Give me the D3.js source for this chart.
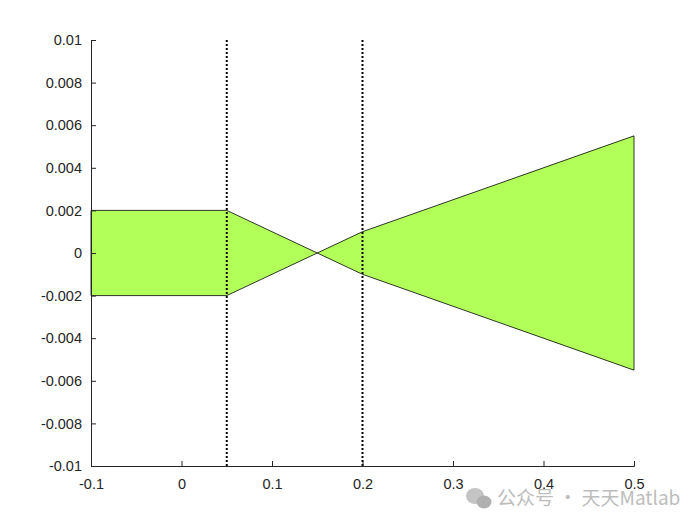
<!DOCTYPE html>
<html>
<head>
<meta charset="utf-8">
<script src="https://cdn.jsdelivr.net/npm/d3@7"></script>
<style>
  body { margin: 0; background: #fff; }
  svg text { font-family: "Liberation Sans", Arial, sans-serif; }
</style>
</head>
<body>
<div id="chart"></div>
<script>
// band outline: upper edge and lower edge (x, y)
var xs = [-0.1, 0.05, 0.15, 0.2, 0.5];
var upper = [0.002, 0.002, 0, 0.001, 0.0055];
var lower = [-0.002, -0.002, 0, -0.001, -0.0055];
var vlines = [0.05, 0.2];
var xTicks = [-0.1, 0, 0.1, 0.2, 0.3, 0.4, 0.5];
var yTicks = [-0.01, -0.008, -0.006, -0.004, -0.002, 0, 0.002, 0.004, 0.006, 0.008, 0.01];

var width = 700, height = 525;
var mLeft = 91, mRight = 634, mTop = 40, mBottom = 466;

var svg = d3.select("#chart").append("svg")
    .attr("width", width)
    .attr("height", height);

var x = d3.scaleLinear().domain([-0.1, 0.5]).range([mLeft, mRight]);
var y = d3.scaleLinear().domain([-0.01, 0.01]).range([mBottom, mTop]);

// polygon: go along upper, back along lower
var poly = [];
for (var i = 0; i < xs.length; i++) poly.push([x(xs[i]), y(upper[i])]);
for (var i = xs.length - 1; i >= 0; i--) poly.push([x(xs[i]), y(lower[i])]);

svg.append("path")
    .attr("d", d3.line()(poly) + "Z")
    .style("fill", "#b3ff5a")
    .style("stroke", "#000")
    .style("stroke-width", 0.8);

svg.selectAll(".vline")
    .data(vlines)
    .enter()
    .append("line")
    .attr("class", "vline")
    .attr("x1", function(d){ return x(d); })
    .attr("x2", function(d){ return x(d); })
    .attr("y1", mTop)
    .attr("y2", mBottom)
    .style("stroke", "#000")
    .style("stroke-width", 2)
    .style("stroke-dasharray", "2,2");

function fmt(d){ return String(+d.toFixed(3)); }

var xAxis = svg.append("g")
    .attr("transform", "translate(0," + mBottom + ")")
    .call(d3.axisBottom(x).tickValues(xTicks).tickSizeInner(-5).tickSizeOuter(-5).tickFormat(fmt));
var yAxis = svg.append("g")
    .attr("transform", "translate(" + mLeft + ",0)")
    .call(d3.axisLeft(y).tickValues(yTicks).tickSizeInner(-5).tickSizeOuter(-5).tickFormat(fmt));

[xAxis, yAxis].forEach(function(a){
    a.selectAll("path, line").style("stroke", "#262626").style("stroke-width", 1);
    a.selectAll("text").style("font-size", "14.5px").style("fill", "#262626");
});
xAxis.selectAll("text").attr("y", 13).attr("dy", "0.71em");
yAxis.selectAll("text").attr("x", -9);

// watermark
var wm = svg.append("g").attr("transform", "translate(466,500)");
wm.append("ellipse").attr("cx", 9).attr("cy", -4).attr("rx", 9).attr("ry", 8).style("fill", "#c4c4c4");
wm.append("ellipse").attr("cx", 18).attr("cy", 2).attr("rx", 7.5).attr("ry", 6.5).style("fill", "#b0b0b0");
wm.append("text")
    .attr("x", 31).attr("y", 5)
    .style("font-family", "'Noto Sans CJK SC', sans-serif")
    .style("font-size", "19px")
    .style("fill", "#bdbdbd")
    .text("公众号 · 天天Matlab");
</script>
</body>
</html>
